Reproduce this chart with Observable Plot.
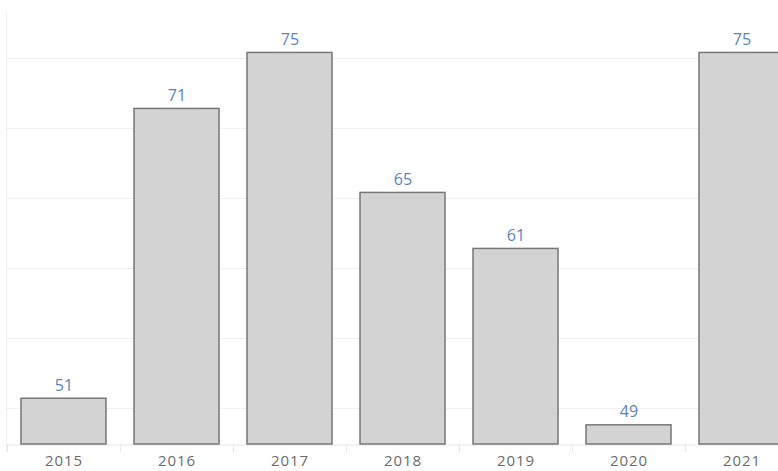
<!DOCTYPE html>
<html>
<head>
<meta charset="utf-8">
<script src="https://cdn.jsdelivr.net/npm/d3@7"></script>
<script src="https://cdn.jsdelivr.net/npm/@observablehq/plot@0.6"></script>
<style>
  html, body { margin: 0; padding: 0; background: #fff; overflow: hidden; }
  #chart { width: 778px; height: 471px; overflow: hidden; }
  #chart g[aria-label="x-axis tick label"] text { letter-spacing: 0.9px; }
</style>
</head>
<body>
<div id="chart"></div>
<script>
const years = ["2015", "2016", "2017", "2018", "2019", "2020", "2021"];
const values = [50.7, 71.4, 75.4, 65.4, 61.4, 48.8, 75.4];
const yTicks = [50, 55, 60, 65, 70, 75];
const yDomain = [47.43, 78.29];

const data = years.map((year, i) => ({year, value: values[i]}));

const xOptions = {type: "band", domain: years, range: [6, 799], paddingInner: 0.25, paddingOuter: 0.125};
const xScale = Plot.scale({x: xOptions});
const step = xScale.step;

const plot = Plot.plot({
  width: 778,
  height: 471,
  marginTop: 12,
  marginBottom: 27,
  marginLeft: 6,
  marginRight: 0,
  style: {fontFamily: "'Open Sans', sans-serif", background: "#fff", overflow: "hidden"},
  x: {...xOptions, axis: null},
  y: {domain: yDomain, axis: null},
  marks: [
    Plot.ruleY(yTicks, {stroke: "#efefef", strokeWidth: 1}),
    Plot.ruleX(years, {x: d => d, dx: -step / 2, y1: yDomain[0], y2: yDomain[0], insetBottom: -8, stroke: "#e6e6e6"}),
    Plot.ruleY([yDomain[0]], {stroke: "#e6e6e6", dy: 0.5}),
    Plot.frame({anchor: "left", stroke: "#eeeeee", insetBottom: -7}),
    Plot.barY(data, {x: "year", y1: yDomain[0], y2: "value", fill: "#d3d3d3", stroke: "#777777", strokeWidth: 1.5}),
    Plot.text(data, {x: "year", y: "value", text: d => d3.format(".0f")(d.value), lineAnchor: "bottom", dy: -8, fill: "#5a84bd", fontSize: 16}),
    Plot.axisX({tickSize: 0, tickPadding: 11, fontSize: 15, color: "#6b6b6b", label: null})
  ]
});
document.getElementById("chart").appendChild(plot);
</script>
</body>
</html>
